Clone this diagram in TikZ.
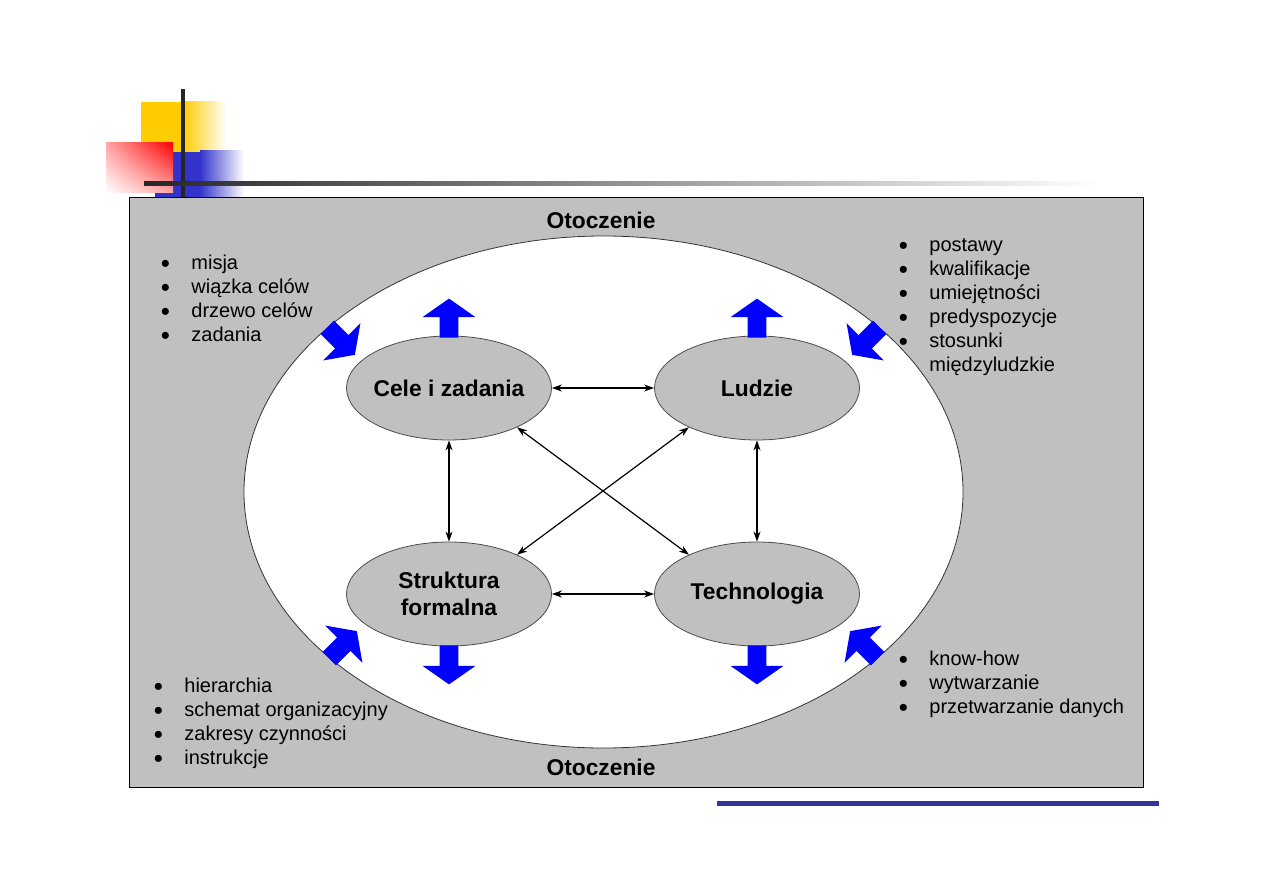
\documentclass[tikz,border=0pt]{standalone}
\usepackage{fontspec}
\setmainfont{Liberation Sans}
\usetikzlibrary{shapes.geometric, shapes.arrows, arrows.meta, positioning, shadings}

\definecolor{panelgray}{RGB}{192,192,192}
\definecolor{decoyellow}{RGB}{255,204,0}
\definecolor{decoblue}{RGB}{51,51,204}
\definecolor{lineblue}{RGB}{51,51,153}

\newcommand{\listdot}{\raisebox{-1.3pt}{\fontsize{13}{12}\selectfont\textbullet}}
\newcommand{\bul}[1]{\strut\makebox[14.75pt][l]{\hspace{-0.5pt}\listdot}#1}
\newcommand{\cont}[1]{\strut\hspace*{14.75pt}#1}

\begin{document}
\begin{tikzpicture}[x=0.5pt, y=-0.5pt,
    kern/.style={ellipse, draw=black!70, fill=panelgray, minimum width=102.5pt, minimum height=52pt, align=center, inner ysep=0pt, inner xsep=-3pt, font=\fontsize{11.4}{13.5}\selectfont\bfseries},
    envlabel/.style={inner sep=0pt, font=\fontsize{11.4}{13.5}\selectfont\bfseries},
    bullets/.style={align=left, inner sep=0pt, anchor=north west, font=\fontsize{10}{12}\selectfont},
    blockarrow/.style={single arrow, fill=blue, draw=none, inner sep=4.5pt, single arrow head extend=8.5pt, single arrow tip angle=110, single arrow head indent=0pt, minimum height=19.5pt, anchor=tail},
    link/.style={{Stealth[length=5pt, width=3.5pt]}-{Stealth[length=5pt, width=3.5pt]}, semithick}]
    \useasboundingbox (0,0) rectangle (1263,893);

    % slide decoration
    \fill[decoyellow] (141,102) rectangle (183,152);
    \shade[left color=decoyellow, right color=white] (183,102) rectangle (226,152);
    \fill[decoblue] (155,152) rectangle (200,197);
    \shade[left color=decoblue, right color=white] (200,151) rectangle (244,197);
    \shade[upper right=red, lower left=white, upper left=red!35!white, lower right=red!35!white] (106,143) rectangle (173,193);
    \fill[black!85] (181,89) rectangle (185,197);
    \shade[left color=black!85, right color=white] (144,182) rectangle (1100,186);
    \fill[lineblue] (717,801) rectangle (1159,806);

    % environment
    \draw[fill=panelgray, draw=black] (129,197) rectangle (1143,787);
    \draw[fill=white, draw=black!80] (603.5,492) ellipse [x radius=179.75pt, y radius=128pt];
    \node[envlabel] (envTop) at (601,220) {Otoczenie};
    \node[envlabel] (envBot) at (601,767) {Otoczenie};

    % the four elements
    \node[kern] (cele) at (449,388) {Cele i zadania};
    \node[kern] (ludzie) at (757,388) {Ludzie};
    \node[kern] (struk) at (449,594) {Struktura\\formalna};
    \node[kern] (tech) at (757,594) {Technologia};

    \draw[link] (cele) -- (ludzie);
    \draw[link] (struk) -- (tech);
    \draw[link] (cele) -- (struk);
    \draw[link] (ludzie) -- (tech);
    \draw[link] (cele.-30) -- (tech.150);
    \draw[link] (ludzie.-150) -- (struk.30);

    % blue arrows
    \node[blockarrow, rotate=90] (outCele) at (449,338) {};
    \node[blockarrow, rotate=90] (outLudzie) at (757,338) {};
    \node[blockarrow, rotate=-90] (outStruk) at (449,645) {};
    \node[blockarrow, rotate=-90] (outTech) at (757,645) {};
    \node[blockarrow, rotate=-45] (inCele) at (327,327) {};
    \node[blockarrow, rotate=-135] (inLudzie) at (880,327) {};
    \node[blockarrow, rotate=45] (inStruk) at (329,659) {};
    \node[blockarrow, rotate=135] (inTech) at (878,659) {};

    % lists
    \node[bullets] (celeList) at (161.5,252.5) {\bul{misja}\\ \bul{wiązka celów}\\ \bul{drzewo celów}\\ \bul{zadania}};
    \node[bullets] (ludzieList) at (899.5,234.5) {\bul{postawy}\\ \bul{kwalifikacje}\\ \bul{umiejętności}\\ \bul{predyspozycje}\\ \bul{stosunki}\\ \cont{międzyludzkie}};
    \node[bullets] (strukList) at (154.5,675.5) {\bul{hierarchia}\\ \bul{schemat organizacyjny}\\ \bul{zakresy czynności}\\ \bul{instrukcje}};
    \node[bullets] (techList) at (899.5,648.5) {\bul{know-how}\\ \bul{wytwarzanie}\\ \bul{przetwarzanie danych}};
\end{tikzpicture}
\end{document}
